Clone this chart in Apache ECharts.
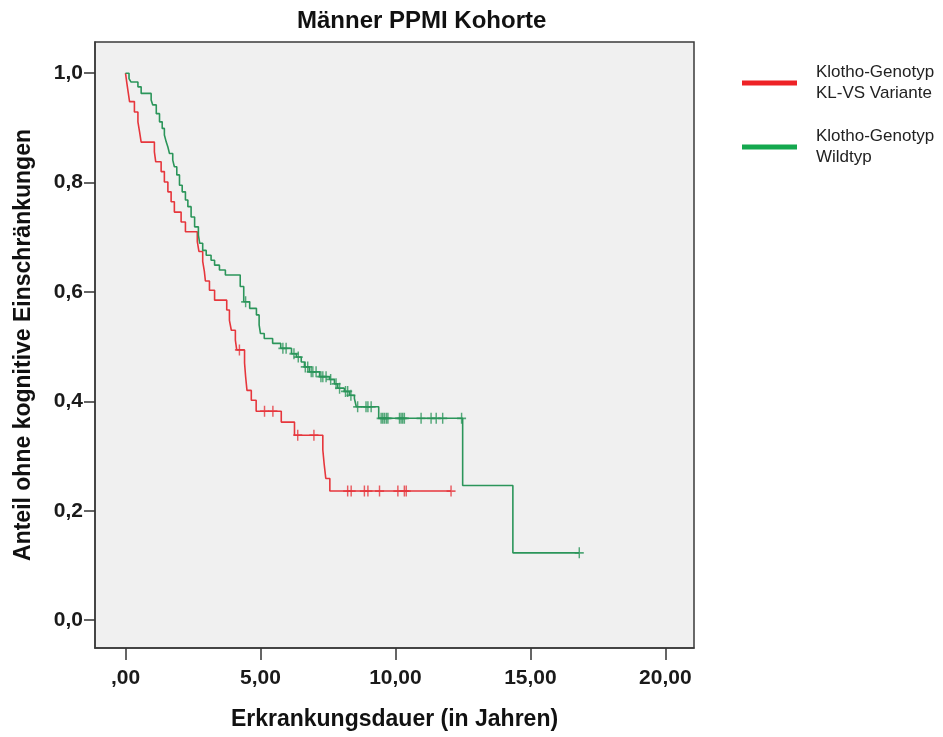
<!DOCTYPE html>
<html>
<head>
<meta charset="utf-8">
<script src="https://cdn.jsdelivr.net/npm/echarts@6/dist/echarts.min.js"></script>
<style>
  html, body { margin: 0; padding: 0; background: #ffffff; }
  #chart { width: 943px; height: 737px; }
</style>
</head>
<body>
<div id="chart"></div>
<script>
// Kaplan-Meier estimate, KL-VS variant carriers: event times (years) and survival after each step
const variantTimes = [0, 0.05, 0.10, 0.15, 0.33, 0.46, 0.52, 0.58, 1.07, 1.12, 1.32, 1.44,
  1.57, 1.69, 1.81, 2.06, 2.22, 2.66, 2.72, 2.86, 2.92, 2.96, 3.11, 3.30, 3.75, 3.85, 3.92,
  4.07, 4.12, 4.41, 4.45, 4.50, 4.66, 4.84, 5.77, 6.26, 7.31, 7.36, 7.42, 7.57, 12.06];
const variantSurv = [1.000, 0.982, 0.965, 0.948, 0.929, 0.911, 0.893, 0.874, 0.856, 0.838, 0.820, 0.801,
  0.783, 0.765, 0.746, 0.728, 0.710, 0.692, 0.674, 0.656, 0.638, 0.620, 0.603, 0.585, 0.567, 0.548, 0.530,
  0.512, 0.494, 0.470, 0.445, 0.420, 0.402, 0.382, 0.362, 0.338, 0.311, 0.285, 0.259, 0.236, 0.236];
// censored observations, KL-VS variant
const variantCensored = [4.22, 5.15, 5.46, 6.38, 6.98, 8.23, 8.36, 8.85, 8.98, 9.41, 10.09, 10.33, 10.40, 12.06];

// Kaplan-Meier estimate, wild type
const wildTimes = [0, 0.13, 0.20, 0.46, 0.58, 0.95, 1.01, 1.14, 1.26, 1.36, 1.44, 1.51, 1.57, 1.63, 1.75,
  1.81, 1.90, 2.00, 2.10, 2.22, 2.31, 2.43, 2.56, 2.70, 2.75, 2.86, 2.99, 3.17, 3.30, 3.48, 3.70, 4.25,
  4.38, 4.60, 4.85, 4.95, 5.00, 5.14, 5.45, 5.75, 6.15, 6.33, 6.51, 6.63, 6.81, 7.19, 7.56, 7.74, 7.86,
  8.11, 8.30, 8.48, 8.55, 9.38, 12.49, 14.35, 16.81];
const wildSurv = [1.000, 0.990, 0.984, 0.975, 0.963, 0.951, 0.942, 0.926, 0.911, 0.899, 0.887, 0.874, 0.865, 0.853, 0.841,
  0.829, 0.814, 0.795, 0.783, 0.768, 0.756, 0.737, 0.719, 0.704, 0.689, 0.676, 0.667, 0.658, 0.649, 0.640, 0.631, 0.610,
  0.582, 0.570, 0.558, 0.540, 0.524, 0.515, 0.506, 0.497, 0.487, 0.481, 0.472, 0.463, 0.454, 0.445, 0.440, 0.432, 0.424,
  0.418, 0.411, 0.405, 0.390, 0.369, 0.246, 0.123, 0.123];
// censored observations, wild type
const wildCensored = [4.45, 5.83, 5.95, 6.24, 6.40, 6.66, 6.75, 6.88, 6.94, 7.06, 7.24, 7.31, 7.43, 7.60,
  7.80, 7.93, 8.15, 8.23, 8.35, 8.60, 8.91, 8.98, 9.10, 9.47, 9.53, 9.59, 9.66, 9.72, 10.15, 10.21,
  10.27, 10.33, 10.95, 11.32, 11.51, 11.75, 12.45, 16.81];

// axis ticks
const xTicks = [0, 5, 10, 15, 20];
const yTicks = [0, 0.2, 0.4, 0.6, 0.8, 1.0];

const seriesNames = ['Klotho-Genotyp\nKL-VS Variante', 'Klotho-Genotyp\nWildtyp'];
const colRed = '#e6363c';
const colGreen = '#2b955a';

// survival value of the step function at time t
function survAt(times, surv, t) {
  let s = surv[0];
  for (let i = 0; i < times.length; i++) {
    if (times[i] <= t) s = surv[i]; else break;
  }
  return s;
}
const pairs = (a, b) => a.map((v, i) => [v, b[i]]);
const censorPoints = (c, times, surv) => c.map(t => [t, survAt(times, surv, t)]);

// censoring mark "+"
const plusPath = 'path://M4.2,0H5.8V4.2H10V5.8H5.8V10H4.2V5.8H0V4.2H4.2Z';
const FONT = 'Liberation Sans, Arial, sans-serif';

const chart = echarts.init(document.getElementById('chart'), null, { renderer: 'canvas' });
chart.setOption({
  animation: false,
  backgroundColor: '#ffffff',
  title: {
    text: 'Männer PPMI Kohorte',
    left: 292, top: 4,
    textStyle: { fontFamily: FONT, fontSize: 24, fontWeight: 'bold', color: '#111' }
  },
  legend: {
    orient: 'vertical',
    left: 737, top: 57,
    itemWidth: 55, itemHeight: 5, itemGap: 22,
    icon: 'rect',
    selectedMode: false,
    data: seriesNames,
    textStyle: { fontFamily: FONT, fontSize: 17, lineHeight: 21, color: '#222', padding: [0, 0, 0, 14] }
  },
  grid: {
    left: 95, right: 249, top: 42, bottom: 89,
    show: true, backgroundColor: '#f0f0f0', borderColor: '#3a3a3a', borderWidth: 1.5
  },
  xAxis: {
    type: 'value', min: -1.13, max: 21.06,
    name: 'Erkrankungsdauer (in Jahren)', nameLocation: 'middle', nameGap: 60,
    nameTextStyle: { fontFamily: FONT, fontSize: 23, fontWeight: 'bold', color: '#111' },
    axisLine: { show: true, onZero: false, lineStyle: { color: '#3a3a3a', width: 1.5 } },
    axisTick: { show: true, length: 12, lineStyle: { color: '#333', width: 1.5 }, customValues: xTicks },
    axisLabel: {
      customValues: xTicks, margin: 20,
      fontFamily: FONT, fontSize: 21, fontWeight: 'bold', color: '#1a1a1a',
      formatter: v => v === 0 ? ',00' : v.toFixed(2).replace('.', ',')
    },
    splitLine: { show: false }
  },
  yAxis: {
    type: 'value', min: -0.051, max: 1.057,
    name: 'Anteil ohne kognitive Einschränkungen', nameLocation: 'middle', nameGap: 60,
    nameTextStyle: { fontFamily: FONT, fontSize: 23, fontWeight: 'bold', color: '#111' },
    axisLine: { show: true, onZero: false, lineStyle: { color: '#3a3a3a', width: 1.5 } },
    axisTick: { show: true, length: 11, lineStyle: { color: '#333', width: 1.5 }, customValues: yTicks },
    axisLabel: {
      customValues: yTicks, margin: 12,
      fontFamily: FONT, fontSize: 21, fontWeight: 'bold', color: '#1a1a1a',
      formatter: v => v.toFixed(1).replace('.', ',')
    },
    splitLine: { show: false }
  },
  series: [
    {
      name: seriesNames[0], type: 'line', step: 'end', showSymbol: false,
      data: pairs(variantTimes, variantSurv),
      lineStyle: { color: colRed, width: 1.6 }, itemStyle: { color: '#ee2226' }, z: 3
    },
    {
      name: seriesNames[1], type: 'line', step: 'end', showSymbol: false,
      data: pairs(wildTimes, wildSurv),
      lineStyle: { color: colGreen, width: 1.6 }, itemStyle: { color: '#14a84e' }, z: 3
    },
    {
      name: 'zensiert KL-VS', type: 'scatter', symbol: plusPath, symbolSize: [9, 11],
      data: censorPoints(variantCensored, variantTimes, variantSurv),
      itemStyle: { color: colRed }, z: 4
    },
    {
      name: 'zensiert Wildtyp', type: 'scatter', symbol: plusPath, symbolSize: [9, 11],
      data: censorPoints(wildCensored, wildTimes, wildSurv),
      itemStyle: { color: colGreen }, z: 4
    }
  ]
});
</script>
</body>
</html>
